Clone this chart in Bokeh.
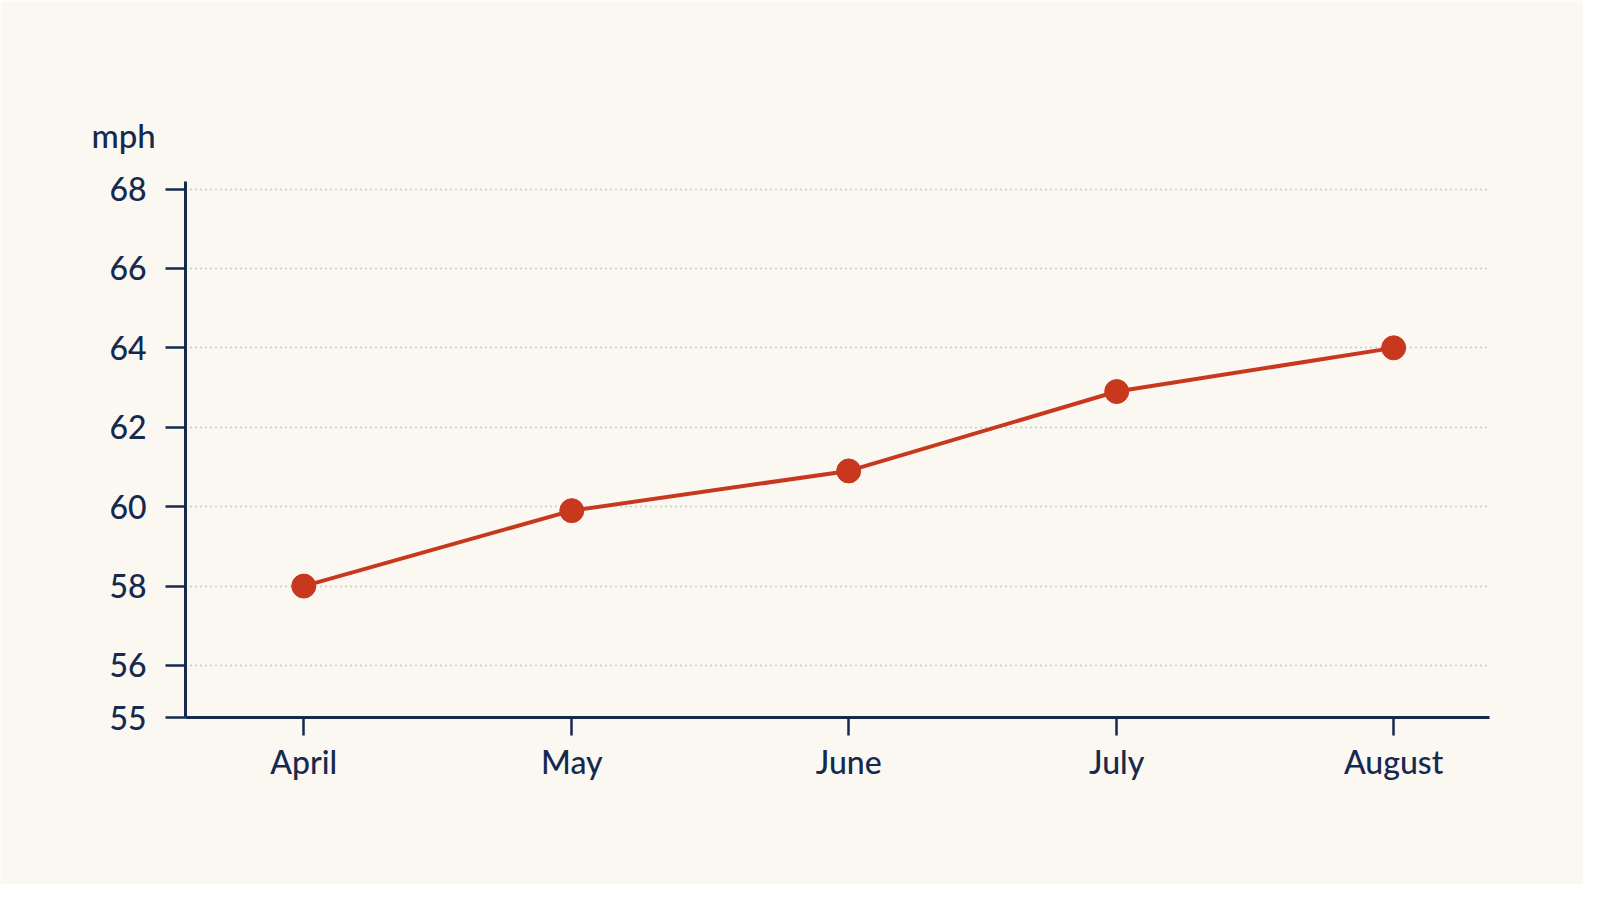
from datetime import datetime, timedelta
from bokeh.plotting import figure
from bokeh.models import FixedTicker, Range1d, DatetimeTickFormatter
from bokeh.embed import file_html
from bokeh.resources import INLINE

# ---- data ----
months = ["April", "May", "June", "July", "August"]
dates = ["2024-04-15", "2024-05-15", "2024-06-15", "2024-07-15", "2024-08-15"]
speed_mph = [58.0, 59.9, 60.9, 62.9, 64.0]
y_ticks = [55, 56, 58, 60, 62, 64, 66, 68]
y_axis_min = 54.69   # the axis line sits a bit below 55; its tick is labelled "55"
y_axis_max = 68.19
unit_label = "mph"

BG = "#FBF8F2"
NAVY = "#16294F"
RED = "#C8381E"
FONT = "Lato Medium, Lato"

xd = [datetime.strptime(d, "%Y-%m-%d") for d in dates]
EPOCH = datetime(1970, 1, 1)
x_ms = [(d - EPOCH).total_seconds() * 1000 for d in xd]

x_start = xd[0] - timedelta(days=13.24)
x_end = xd[-1] + timedelta(days=10.73)

p = figure(width=1583, height=884, output_backend="svg", toolbar_location=None,
           x_axis_type="datetime",
           x_range=Range1d(x_start, x_end), y_range=Range1d(y_axis_min, y_axis_max),
           min_border_left=185, min_border_right=94,
           min_border_top=181, min_border_bottom=167)

p.background_fill_color = BG
p.border_fill_color = BG
p.outline_line_color = None

# unit label as left-aligned title
p.title.text = unit_label
p.title.align = "left"
p.title.offset = -94
p.title.standoff = 53
p.title.text_font = FONT
p.title.text_font_style = "normal"
p.title.text_font_size = "33px"
p.title.text_color = NAVY

# y ticks: the lowest labelled tick sits on the axis line
tick_pos = [y_axis_min if t == min(y_ticks) else t for t in y_ticks]
overrides = {y_axis_min: str(min(y_ticks))}

# grid
p.xgrid.grid_line_color = None
p.ygrid.grid_line_color = "#9A9A9A"
p.ygrid.grid_line_width = 1.4
p.ygrid.grid_line_dash = "1 4"
p.ygrid.ticker = FixedTicker(ticks=[t for t in y_ticks if t != min(y_ticks)])

# axes
for ax in (p.xaxis[0], p.yaxis[0]):
    ax.axis_line_color = NAVY
    ax.axis_line_width = 3
    ax.major_tick_line_color = NAVY
    ax.major_tick_line_width = 2.5
    ax.major_tick_in = 0
    ax.minor_tick_line_color = None
    ax.major_label_text_font = FONT
    ax.major_label_text_font_size = "32px"
    ax.major_label_text_color = NAVY

p.yaxis[0].ticker = FixedTicker(ticks=tick_pos)
p.yaxis[0].major_label_overrides = overrides
p.yaxis[0].major_tick_out = 20
p.yaxis[0].major_label_standoff = 19

p.xaxis[0].ticker = FixedTicker(ticks=x_ms)
p.xaxis[0].formatter = DatetimeTickFormatter(days="%B", months="%B", years="%B")
p.xaxis[0].major_tick_out = 18
p.xaxis[0].major_label_standoff = 6

p.line(xd, speed_mph, line_color=RED, line_width=4)
p.scatter(xd, speed_mph, size=24, fill_color=RED, line_color=RED)

open("out.html", "w").write(file_html(p, INLINE))
